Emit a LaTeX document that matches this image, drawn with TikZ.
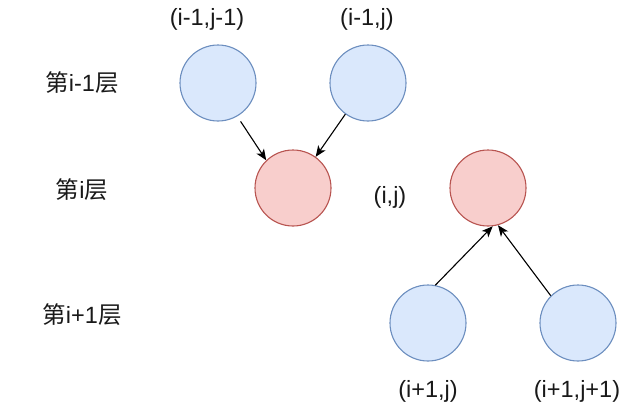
\documentclass[tikz,border=0pt]{standalone}
\usepackage{fontspec}
\setmainfont{Liberation Sans}
\newfontfamily\cjk{Noto Sans CJK SC}
\usetikzlibrary{arrows.meta}
\definecolor{bluefill}{HTML}{DAE8FC}
\definecolor{bluestroke}{HTML}{6C8EBF}
\definecolor{redfill}{HTML}{F8CECC}
\definecolor{redstroke}{HTML}{B85450}
\begin{document}
\begin{tikzpicture}[x=1pt,y=-1pt,
  bluenode/.style={circle,draw=bluestroke,fill=bluefill,line width=1.1pt,minimum size=76pt,inner sep=0pt},
  rednode/.style={circle,draw=redstroke,fill=redfill,line width=1.1pt,minimum size=76pt,inner sep=0pt},
  lbl/.style={font=\fontsize{23.5}{28}\selectfont,inner sep=0pt,text=black!90},
  arr/.style={-{Stealth[length=11pt,width=9pt,inset=3pt]},line width=1.1pt}]
\useasboundingbox (0,0) rectangle (623,407);
% nodes
\node[bluenode] (tl) at (218,83) {};
\node[bluenode] (tr) at (368,83) {};
\node[rednode]  (m)  at (293,188) {};
\node[rednode]  (m2) at (488,188) {};
\node[bluenode] (bl) at (428,323) {};
\node[bluenode] (br) at (578,323) {};
% labels
\node[lbl] (ltl) at (207,19) {(i-1,j-1)};
\node[lbl] (ltr) at (367,19) {(i-1,j)};
\node[lbl] (lm)  at (390,197) {(i,j)};
\node[lbl] (lbl1) at (428,391) {(i+1,j)};
\node[lbl] (lbr) at (577,391) {(i+1,j+1)};
\node[lbl] (layer1) at (82,83) {{\cjk 第}i-1{\cjk 层}};
\node[lbl] (layer2) at (82,190) {{\cjk 第}i{\cjk 层}};
\node[lbl] (layer3) at (82,315) {{\cjk 第}i+1{\cjk 层}};
% connectors
\draw[arr,shorten <=6pt] (tl.-60) -- (m.134);
\draw[arr] (tr.-126) -- (m.54);
\draw[arr] (bl.79) -- (m2.-83);
\draw[arr] (br.135) -- (m2.-75);
\end{tikzpicture}
\end{document}
